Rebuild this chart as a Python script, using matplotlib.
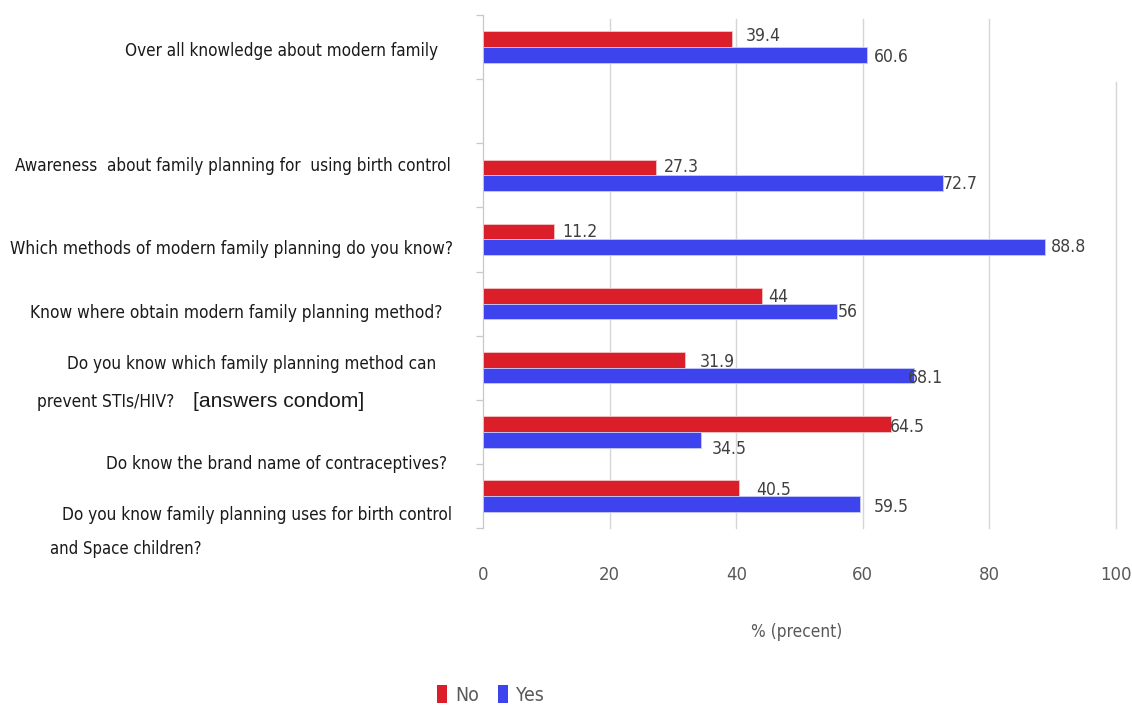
import matplotlib
matplotlib.use("Agg")
import matplotlib.pyplot as plt
import numpy as np
from matplotlib.patches import Patch

# ---------------------------------------------------------------------------
# data
# ---------------------------------------------------------------------------
CATEGORIES = [
    "Over all knowledge about modern family",
    "",
    "Awareness  about family planning for  using birth control",
    "Which methods of modern family planning do you know?",
    "Know where obtain modern family planning method?",
    "Do you know which family planning method can\nprevent STIs/HIV?",
    "Do know the brand name of contraceptives?",
    "Do you know family planning uses for birth control\nand Space children?",
]
NOTE_TEXT = "[answers condom]"
NO_VALUES = [39.4, np.nan, 27.3, 11.2, 44, 31.9, 64.5, 40.5]
YES_VALUES = [60.6, np.nan, 72.7, 88.8, 56, 68.1, 34.5, 59.5]
X_TICKS = [0, 20, 40, 60, 80, 100]
SERIES = ["No", "Yes"]

# ---------------------------------------------------------------------------
# style
# ---------------------------------------------------------------------------
W, H = 1132, 707
RED = "#DA1F2A"
BLUE = "#3D44EE"
FAMILY = ["DejaVu Sans"]
STRETCH = "condensed"

# label lines: (left px, right px, centre y px) per category line
LINE_BOX = [
    [(125, 439, 51)],
    [],
    [(15, 451, 166)],
    [(10, 454, 249)],
    [(30, 445, 313)],
    [(67, 437, 364), (37, 175, 402)],
    [(106, 449, 464)],
    [(62, 453, 515), (50, 202, 549)],
]
NOTE_BOX = (193, 365, 401)

# value label offsets in px (dx from bar end, dy from bar centre, down +)
NO_OFF = [(13, -3), None, (8, 0), (8, 0), (7, 1), (15, 2), (-1, 3), (17, 2)]
YES_OFF = [(7, 2), None, (0, 1), (6, 0), (0, 1), (-6, 2), (10, 9), (14, 3)]


def fx(x):
    return x / W


def fy(y):
    return 1 - y / H


plt.rcParams["font.family"] = FAMILY
plt.rcParams["font.stretch"] = STRETCH

fig = plt.figure(figsize=(W / 100, H / 100), dpi=100)
renderer = fig.canvas.get_renderer()


def fit_size(text, target_px, base=15, **kw):
    """font size so that text is about target_px wide"""
    t = fig.text(0, 0, text, fontsize=base, **kw)
    w = t.get_window_extent(renderer).width
    t.remove()
    return base * target_px / w


ax = fig.add_axes([fx(483), fy(528), fx(1116) - fx(483), fy(15) - fy(528)])

ypos = np.arange(len(CATEGORIES))
bh = 0.245
for i in ypos:
    if not np.isnan(NO_VALUES[i]):
        ax.barh(i - bh / 2, NO_VALUES[i], height=bh, color=RED,
                edgecolor="#f4c6c8", linewidth=0.6, zorder=3)
        ax.barh(i + bh / 2, YES_VALUES[i], height=bh, color=BLUE,
                edgecolor="#c9cbfb", linewidth=0.6, zorder=3)

# value labels
val_size = fit_size("39.4", 35)
for vals, offs, sign in [(NO_VALUES, NO_OFF, -1), (YES_VALUES, YES_OFF, 1)]:
    for i, v in enumerate(vals):
        if np.isnan(v):
            continue
        dx, dy = offs[i]
        ax.annotate(f"{v:g}", xy=(v, i + sign * bh / 2),
                    xytext=(dx * 0.72, -dy * 0.72), textcoords="offset points",
                    ha="left", va="center", fontsize=val_size, color="#404040",
                    zorder=4)

ax.set_xlim(0, 100)
ax.set_ylim(len(CATEGORIES) - 0.5, -0.5)

# gridlines (the 100 one starts a bit lower in the original)
for t in X_TICKS[1:]:
    top = 0.869 if t == 100 else 0.992
    ax.axvline(t, ymin=0, ymax=top, color="#d6d6d6", linewidth=1.0,
               zorder=1, clip_on=False)

tick_size = fit_size("20", 21)
ax.set_xticks(X_TICKS)
ax.set_xticklabels([str(t) for t in X_TICKS])
ax.tick_params(axis="x", length=0, pad=27, labelsize=tick_size,
               labelcolor="#595959")
ax.set_yticks(np.arange(-0.5, len(CATEGORIES) + 0.5, 1))
ax.set_yticklabels([])
ax.tick_params(axis="y", length=5, color="#c8c8c8", width=0.9)

for s in ["top", "right", "bottom"]:
    ax.spines[s].set_visible(False)
ax.spines["left"].set_color("#c8c8c8")
ax.spines["left"].set_linewidth(0.9)

# category labels
for cat, boxes in zip(CATEGORIES, LINE_BOX):
    for line, (x0, x1, y) in zip(cat.split("\n"), boxes):
        size = fit_size(line, x1 - x0)
        fig.text(fx(x0), fy(y), line, ha="left", va="center",
                 fontsize=size, color="#1a1a1a")
note_kw = dict(family=["Liberation Sans", "DejaVu Sans"], fontstretch="normal")
fig.text(fx(NOTE_BOX[0]), fy(NOTE_BOX[2]), NOTE_TEXT, ha="left", va="center",
         fontsize=fit_size(NOTE_TEXT, NOTE_BOX[1] - NOTE_BOX[0], **note_kw),
         color="#1a1a1a", **note_kw)

fig.text(fx(797), fy(632), "% (precent)", ha="center", va="center",
         fontsize=fit_size("% (precent)", 91), color="#595959")

handles = [Patch(facecolor=RED, label=SERIES[0]),
           Patch(facecolor=BLUE, label=SERIES[1])]
fig.legend(handles=handles, loc="center left",
           bbox_to_anchor=(fx(420), fy(695)), ncol=2, frameon=False,
           fontsize=fit_size("Yes", 28), handlelength=0.5, handleheight=1.0,
           handletextpad=0.4, columnspacing=1.0, labelcolor="#595959")

fig.savefig("out.png", dpi=100)
